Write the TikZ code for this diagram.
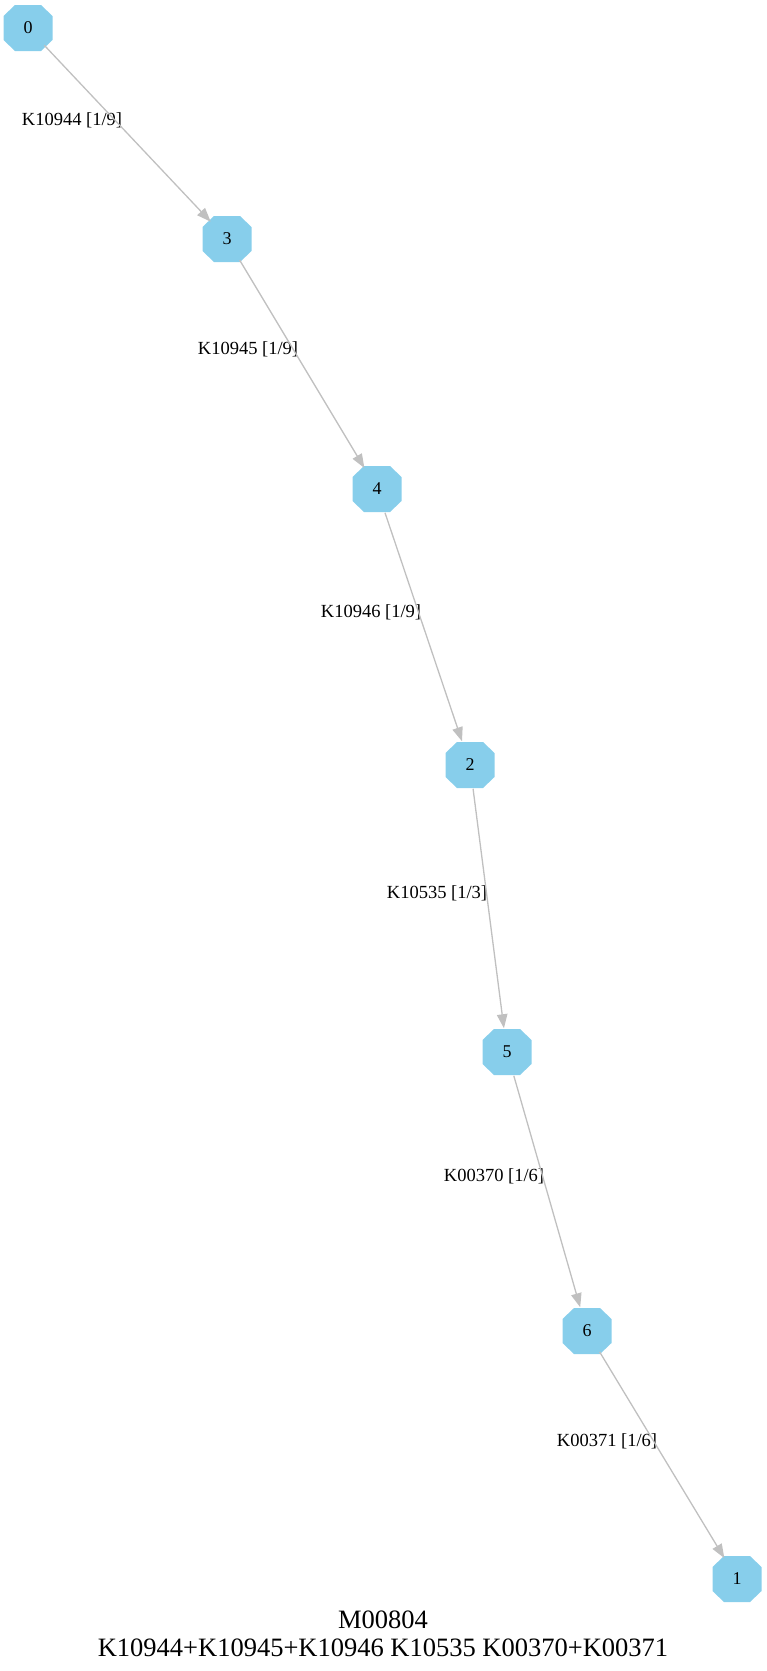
\documentclass[tikz,border=0pt]{standalone}
\usepackage{fontspec}
\setmainfont{Liberation Serif}
\usetikzlibrary{shapes.geometric,arrows.meta,backgrounds}
\definecolor{nodeblue}{HTML}{87CEEB}
\definecolor{edgegray}{HTML}{C0C0C0}
\tikzset{
  octnode/.style={regular polygon, regular polygon sides=8, draw=none,
    minimum size=51pt, inner sep=0pt, font=\fontsize{18}{20}\selectfont},
  octfill/.style={fill=nodeblue},
  elabel/.style={inner sep=0pt, font=\fontsize{18.5}{20}\selectfont},
  conn/.style={draw=edgegray, line width=1.3pt, -{Triangle[length=14pt,width=10.5pt]}},
  titletext/.style={inner sep=0pt, font=\fontsize{26.5}{28}\selectfont}
}
\begin{document}
\begin{tikzpicture}[x=1pt,y=-1pt]
\useasboundingbox (0,0) rectangle (766,1671);
\node[octnode] (n0) at (28,28) {0};
\node[octnode] (n3) at (227,239) {3};
\node[octnode] (n4) at (377,489) {4};
\node[octnode] (n2) at (470,765) {2};
\node[octnode] (n5) at (507,1052) {5};
\node[octnode] (n6) at (587,1331) {6};
\node[octnode] (n1) at (737,1579) {1};
\begin{scope}[on background layer]
\foreach \n in {n0,n3,n4,n2,n5,n6,n1}
  \fill[octfill] (\n.center) ++(-13,-23) -- ++(26,0) -- ++(11.5,11) -- ++(0,24)
    -- ++(-11.5,11) -- ++(-26,0) -- ++(-11.5,-11) -- ++(0,-24) -- cycle;
\end{scope}
\node[elabel] (l03) at (72,120) {K10944 [1/9]};
\node[elabel] (l34) at (248,349) {K10945 [1/9]};
\node[elabel] (l42) at (371,612) {K10946 [1/9]};
\node[elabel] (l25) at (437,893) {K10535 [1/3]};
\node[elabel] (l56) at (494,1176) {K00370 [1/6]};
\node[elabel] (l61) at (607,1441) {K00371 [1/6]};
\draw[conn] (n0) -- (n3);
\draw[conn] (n3) -- (n4);
\draw[conn] (n4) -- (n2);
\draw[conn] (n2) -- (n5);
\draw[conn] (n5) -- (n6);
\draw[conn] (n6) -- (n1);
\node[titletext] (t1) at (383,1620) {M00804};
\node[titletext] (t2) at (383,1648) {K10944+K10945+K10946 K10535 K00370+K00371};
\end{tikzpicture}
\end{document}
